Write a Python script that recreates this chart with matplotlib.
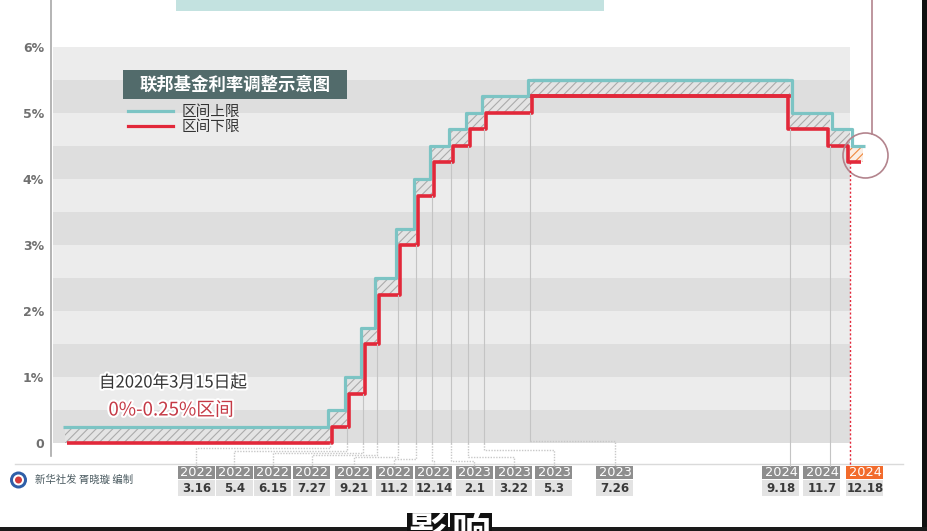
import matplotlib
matplotlib.use("Agg")
import matplotlib.pyplot as plt
import matplotlib.dates as mdates
import matplotlib.patheffects as pe
from matplotlib import transforms
from matplotlib.patches import Rectangle, Circle
from matplotlib.lines import Line2D
import numpy as np

plt.rcParams['font.family'] = ['Noto Sans CJK SC', 'DejaVu Sans']
plt.rcParams['hatch.linewidth'] = 0.8

# 联邦基金利率目标区间（%）
change_dates = ['2020-03-15', '2022-03-16', '2022-05-04', '2022-06-15', '2022-07-27',
                '2022-09-21', '2022-11-02', '2022-12-14', '2023-02-01', '2023-03-22',
                '2023-05-03', '2023-07-26', '2024-09-18', '2024-11-07', '2024-12-18']
end_date = '2025-01-08'
upper = [0.25, 0.5, 1.0, 1.75, 2.5, 3.25, 4.0, 4.5, 4.75, 5.0, 5.25, 5.5, 5.0, 4.75, 4.5]
lower = [0.0, 0.25, 0.75, 1.5, 2.25, 3.0, 3.75, 4.25, 4.5, 4.75, 5.0, 5.25, 4.75, 4.5, 4.25]

tick_years = ['2022'] * 7 + ['2023'] * 4 + ['2024'] * 3
tick_days = ['3.16', '5.4', '6.15', '7.27', '9.21', '11.2', '12.14',
             '2.1', '3.22', '5.3', '7.26', '9.18', '11.7', '12.18']
y_ticks = [0, 1, 2, 3, 4, 5, 6]
y_labels = ['0', '1%', '2%', '3%', '4%', '5%', '6%']

# 压缩的时间轴：每个调整日期在横轴上的位置（轴宽 854）
axis_pos = [14, 279, 296, 312, 326, 347, 365, 381, 400, 417, 433, 479, 739, 779, 799]
end_pos = 812
axis_w = 854
# 下方日期框的中心位置与折线拐点高度（像素）
box_x = [196.5, 234.5, 273, 312, 354, 394.5, 434, 474.5, 514, 554, 615, 781, 822, 865]
elbow_y = [448, 451, 453, 455, 457, 459, 461, 461, 457, 450, 441, None, None, None]

TEAL = '#7cc4c4'
RED = '#e2283a'
W, H = 927, 531

fig = plt.figure(figsize=(W / 100, H / 100), dpi=100)
fig.patch.set_facecolor('white')
ax = fig.add_axes([51 / W, 67 / H, axis_w / W, 464 / H])
ax.set_facecolor('none')

dnum = mdates.datestr2num(change_dates + [end_date])
pos = np.array(axis_pos + [end_pos], dtype=float)
a_d = np.concatenate([[dnum[0] - 100], dnum, [dnum[-1] + 100]])
a_p = np.concatenate([[pos[0] - 36], pos, [pos[-1] + 50]])


def fwd(d):
    return np.interp(d, a_d, a_p)


def inv(p):
    return np.interp(p, a_p, a_d)


ax.set_xscale('function', functions=(fwd, inv))
ax.set_xlim(inv(0), inv(axis_w))
ax.set_ylim(-0.318, 6.712)

# 背景条纹
band_end = fwd(dnum[14]) / axis_w
for k in range(6):
    ax.axhspan(k, k + 0.5, xmin=0.002, xmax=band_end, color='#dedede', lw=0, zorder=0)
    ax.axhspan(k + 0.5, k + 1, xmin=0.002, xmax=band_end, color='#ececec', lw=0, zorder=0)

# 阴影区间
ax.fill_between(dnum[:15], lower, upper, step='post', facecolor='#e4e4e4',
                edgecolor='#ababab', hatch='////', lw=0, zorder=2)
ax.fill_between(dnum[14:16], [lower[-1]] * 2, [upper[-1]] * 2, step='post',
                facecolor='#fbeee4', edgecolor='#f0883c', hatch='////', lw=0, zorder=2)

yu = upper + [upper[-1]]
yl = lower + [lower[-1]]
peak = 11
d = 1.8
left = transforms.offset_copy(ax.transData, fig, x=-d, y=0, units='dots')
right = transforms.offset_copy(ax.transData, fig, x=d, y=0, units='dots')
ax.step(dnum[:peak + 2], yl[:peak + 1] + [yl[peak]], where='post', color=RED, lw=2.6,
        transform=right, zorder=3, solid_capstyle='butt')
ax.step(dnum[peak:], yl[peak:], where='post', color=RED, lw=2.6,
        transform=left, zorder=3, solid_capstyle='butt')
ax.step(dnum[:peak + 2], yu[:peak + 1] + [yu[peak]], where='post', color=TEAL, lw=2.3,
        transform=left, zorder=4, solid_capstyle='butt')
ax.step(dnum[peak:], yu[peak:], where='post', color=TEAL, lw=2.3,
        transform=right, zorder=4, solid_capstyle='butt')

ax.set_yticks(y_ticks)
ax.set_yticklabels(y_labels, family='DejaVu Sans', fontweight='bold')
ax.tick_params(axis='y', length=0, pad=5, labelsize=9, labelcolor='#707070')
ax.set_xticks([])
for s in ['top', 'right', 'bottom']:
    ax.spines[s].set_visible(False)
ax.spines['left'].set_color('#a8a8a8')
ax.spines['left'].set_linewidth(1.2)
ax.spines['left'].set_bounds(-0.2, 6.712)

# 装饰层（像素坐标）
deco = fig.add_axes([0, 0, 1, 1], zorder=5)
deco.set_xlim(0, W)
deco.set_ylim(H, 0)
deco.axis('off')
deco.patch.set_alpha(0)

deco.add_patch(Rectangle((176, 0), 428, 11, fc='#c3e2e0', lw=0))
deco.plot([15, 903], [463.5, 463.5], color='#dadada', lw=1)

# 连接线
for i in range(1, 15):
    y_top = min(lower[i - 1], lower[i])
    px, py = ax.transData.transform((dnum[i], y_top))
    py = H - py
    j = i - 1
    if i == 14:
        deco.plot([px, px], [py, 466], color=RED, lw=1, ls=(0, (1.5, 1.5)))
        continue
    if elbow_y[j] is None:
        deco.plot([px, px], [py, 466], color='#c4c4c4', lw=0.8)
        continue
    ey = elbow_y[j]
    top_solid = min(ey, 443)
    deco.plot([px, px], [py, top_solid], color='#c4c4c4', lw=0.8)
    deco.plot([px, px, box_x[j], box_x[j]], [top_solid, ey, ey, 466],
              color='#c8c8c8', lw=1, ls=(0, (1, 1)))

# 日期框
for j, (yr, dy) in enumerate(zip(tick_years, tick_days)):
    cx = box_x[j]
    ycol = '#f26b2c' if j == len(tick_days) - 1 else '#8e8e8e'
    deco.add_patch(Rectangle((cx - 18.5, 466), 37, 13, fc=ycol, lw=0))
    deco.add_patch(Rectangle((cx - 18.5, 480), 37, 16, fc='#e3e3e3', lw=0))
    deco.text(cx, 472.8, yr, ha='center', va='center', color='white', fontsize=9.3,
              family='DejaVu Sans')
    deco.text(cx, 488.3, dy, ha='center', va='center', color='#3a3a3a', fontsize=8.5,
              family='DejaVu Sans', fontweight='bold')

# 标题与图例
deco.add_patch(Rectangle((123, 70), 224, 29, fc='#526b6b', lw=0))
deco.text(235, 85, '联邦基金利率调整示意图', ha='center', va='center', color='white',
          fontsize=12.5, fontweight='bold')
handles = [Line2D([], [], color=TEAL, lw=2.3), Line2D([], [], color=RED, lw=2.3)]
deco.legend(handles, ['区间上限', '区间下限'], loc='upper left', bbox_to_anchor=(128, 105),
            bbox_transform=deco.transData, frameon=False, fontsize=10.5, handlelength=3.1,
            handletextpad=0.6, labelspacing=0.05, borderpad=0, borderaxespad=0,
            labelcolor='#333333')

halo = [pe.withStroke(linewidth=3, foreground='white')]
deco.text(173, 383, '自2020年3月15日起', ha='center', va='center', color='#333333',
          fontsize=12, path_effects=halo)
deco.text(171, 410, '0%-0.25%区间', ha='center', va='center', color='#c53a46',
          fontsize=13.5, path_effects=halo)

# 新华社标识
deco.add_patch(Circle((18.5, 480), 8.5, fc='#2f5fa8', lw=0))
deco.add_patch(Circle((18.5, 480), 5.5, fc='white', lw=0))
deco.add_patch(Circle((18.5, 480), 3.5, fc='#d23a3a', lw=0))
deco.text(35, 480, '新华社发 胥晓璇 编制', ha='left', va='center', color='#4a5a60',
          fontsize=7.5)

# 右侧圆圈标注
deco.add_patch(Circle((865.5, 155.5), 22.5, fill=False, ec='#b3848d', lw=1.2))
deco.plot([872, 872], [0, 134], color='#b3848d', lw=1.2)

# 视频画面边缘
deco.add_patch(Rectangle((922, 0), 5, H, fc='#111111', lw=0))
deco.add_patch(Rectangle((0, 527), W, 4, fc='#1a1a1a', lw=0))
deco.add_patch(Rectangle((407, 513), 41, 18, fc='#111111', lw=0))
deco.add_patch(Rectangle((450, 513), 42, 18, fc='#111111', lw=0))
deco.text(427.5, 514, '影', ha='center', va='top', color='white', fontsize=28,
          fontweight='bold', clip_on=True)
deco.text(471, 514, '响', ha='center', va='top', color='white', fontsize=28,
          fontweight='bold', clip_on=True)

fig.savefig('out.png', dpi=100)
